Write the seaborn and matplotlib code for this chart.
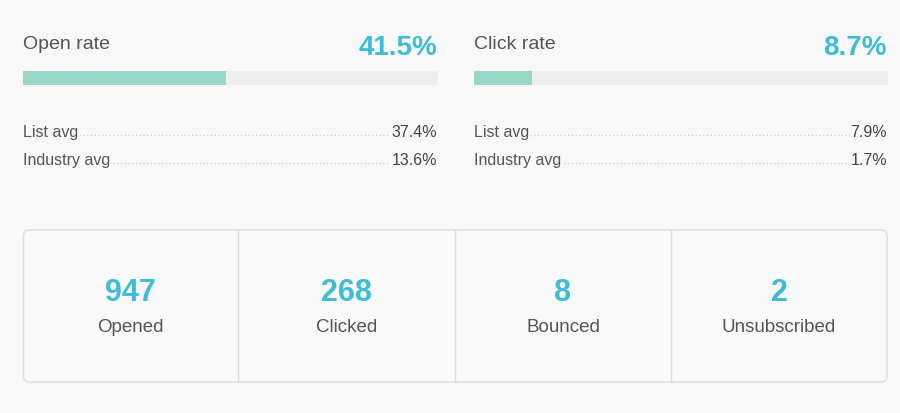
import matplotlib
matplotlib.use("Agg")
import matplotlib.pyplot as plt
from matplotlib.patches import FancyBboxPatch
import seaborn as sns
import pandas as pd

# data
rate_names = ["Open rate", "Click rate"]
rate_values = ["41.5%", "8.7%"]
bar_fill = [0.49, 0.14]          # fill of the progress bars as drawn
list_avg = ["37.4%", "7.9%"]
industry_avg = ["13.6%", "1.7%"]
stat_labels = ["Opened", "Clicked", "Bounced", "Unsubscribed"]
stat_values = [947, 268, 8, 2]

BG = "#f8f8f8"
BLUE = "#3fbdd6"
TEAL = "#96d7c7"
TRACK = "#eeeeee"
GREY = "#555555"

sns.set_theme(style="white")
plt.rcParams["font.family"] = ["Liberation Sans", "DejaVu Sans"]

W, H = 900, 414
fig = plt.figure(figsize=(W / 100, H / 100), dpi=100, facecolor=BG)
ax = fig.add_axes([0, 0, 1, 1])
ax.set_xlim(0, W)
ax.set_ylim(H, 0)
ax.axis("off")
ax.set_facecolor(BG)

panels_x = [(23, 437), (474, 887)]

for i, (x0, x1) in enumerate(panels_x):
    ax.text(x0, 49, rate_names[i], fontsize=14, color=GREY, va="baseline", ha="left")
    ax.text(x1, 55, rate_values[i], fontsize=20, color=BLUE, va="baseline", ha="right",
            fontweight="bold")

    # progress bar
    bax = fig.add_axes([x0 / W, 1 - 86 / H, (x1 - x0 + 1) / W, 14 / H])
    bdf = pd.DataFrame({"metric": [rate_names[i]], "fill": [bar_fill[i]]})
    sns.barplot(data=bdf, x="fill", y="metric", color=TEAL, width=1.0,
                saturation=1, ax=bax, orient="h", linewidth=0, edgecolor=TEAL)
    bax.set_xlim(0, 1)
    bax.set_ylim(0.5, -0.5)
    bax.axis("off")
    bax.add_patch(FancyBboxPatch((0, -0.5), 1, 1, boxstyle="round,pad=0,rounding_size=0.004",
                                 mutation_aspect=60, color=TRACK, zorder=0,
                                 transform=bax.transData))
    bax.plot([0.015, bar_fill[i] - 0.01], [0.1, 0.1], color="#e6a3ad",
             linestyle=(0, (0.6, 4)), lw=0.8, zorder=5)

    # averages with dotted leaders
    for yb, lab, val in [(137, "List avg", list_avg[i]), (165, "Industry avg", industry_avg[i])]:
        ax.plot([x0, x1], [yb - 1, yb - 1], color="#c4c4c4", linestyle=(0, (0.8, 2.2)),
                lw=0.9, zorder=1)
        ax.text(x0, yb, lab, fontsize=11.5, color=GREY, va="baseline", ha="left",
                zorder=3, bbox=dict(facecolor=BG, edgecolor="none", pad=0.6))
        ax.text(x1, yb, val, fontsize=11.5, color="#444444", va="baseline", ha="right",
                zorder=3, bbox=dict(facecolor=BG, edgecolor="none", pad=0.6))

# stats box
bx0, bx1, by0, by1 = 23.5, 887, 231, 383
box = FancyBboxPatch((bx0, by0), bx1 - bx0, by1 - by0,
                     boxstyle="round,pad=0,rounding_size=6",
                     facecolor="#f9f9f9", edgecolor="#dddddd", lw=1.0)
ax.add_patch(box)
dividers = [238, 455, 671]
for dx in dividers:
    ax.plot([dx, dx], [by0, by1], color="#dddddd", lw=1.0)

edges = [bx0] + dividers + [bx1]
for k in range(len(stat_labels)):
    cx = (edges[k] + edges[k + 1]) / 2
    ax.text(cx, 301, str(stat_values[k]), fontsize=22, color=BLUE, fontweight="bold",
            ha="center", va="baseline")
    ax.text(cx, 332, stat_labels[k], fontsize=13.5, color=GREY, ha="center", va="baseline")

fig.savefig("out.png", dpi=100, facecolor=BG)
